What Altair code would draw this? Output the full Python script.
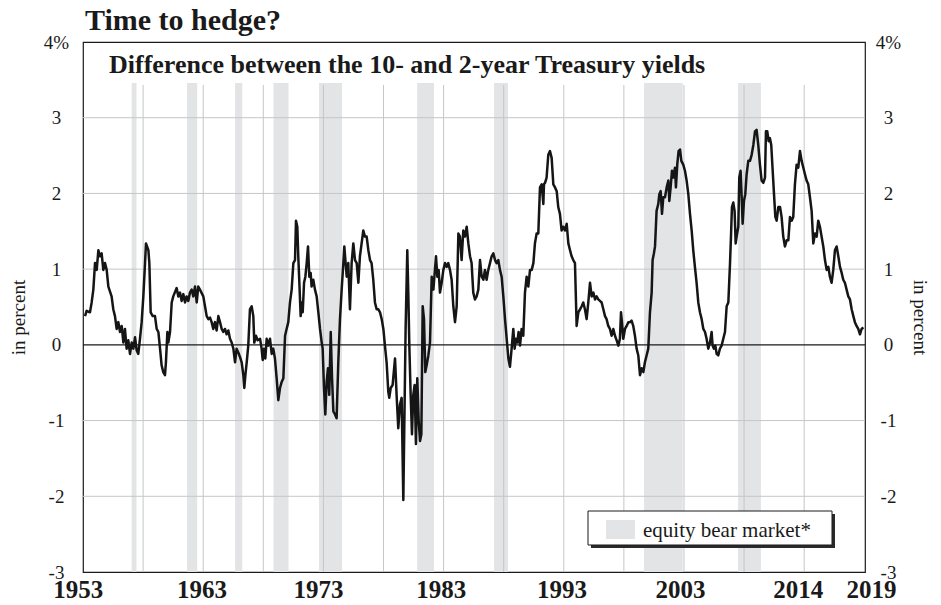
import altair as alt
import pandas as pd

# ---------------- data ----------------
years_a = [1953.17, 1953.30, 1953.58, 1953.72, 1953.86, 1954.00, 1954.14, 1954.28, 1954.41, 1954.55,
           1954.69, 1954.83, 1954.97, 1955.11, 1955.38, 1955.52, 1955.66, 1955.80, 1955.94, 1956.08,
           1956.22, 1956.36, 1956.49, 1956.63, 1956.77, 1956.91, 1957.05, 1957.19, 1957.33, 1957.46,
           1957.60, 1957.74, 1957.88, 1958.02, 1958.16, 1958.24, 1958.44, 1958.52, 1958.63, 1958.80,
           1958.99, 1959.13, 1959.27, 1959.41, 1959.54, 1959.68, 1959.82, 1959.90, 1960.02, 1960.10,
           1960.24, 1960.38, 1960.51, 1960.79, 1960.93, 1961.07, 1961.21, 1961.35, 1961.49, 1961.62,
           1961.76, 1961.90, 1962.04, 1962.18, 1962.32, 1962.46, 1962.59, 1962.73, 1963.01, 1963.15,
           1963.29, 1963.43, 1963.57, 1963.70, 1963.84, 1963.98, 1964.12, 1964.26, 1964.40, 1964.54,
           1964.67, 1964.81, 1964.95, 1965.09, 1965.23, 1965.37, 1965.51, 1965.65, 1965.78, 1965.92,
           1966.06, 1966.20, 1966.34, 1966.42, 1966.51, 1966.62, 1966.75, 1966.89, 1967.03, 1967.17,
           1967.25, 1967.39, 1967.53, 1967.73, 1967.86, 1967.95, 1968.06, 1968.17, 1968.28, 1968.42,
           1968.56, 1968.70, 1968.83, 1968.97, 1969.11, 1969.25, 1969.39, 1969.53, 1969.67, 1969.81,
           1969.94, 1970.08, 1970.22, 1970.36, 1970.50, 1970.64, 1970.72, 1970.83, 1970.91, 1971.00,
           1971.11, 1971.19, 1971.28, 1971.39, 1971.50, 1971.61, 1971.72, 1971.83, 1971.94, 1972.02,
           1972.16, 1972.30, 1972.44, 1972.58, 1972.72, 1972.86, 1972.94, 1973.05, 1973.16, 1973.27,
           1973.38, 1973.49, 1973.61, 1973.72, 1973.83, 1973.97, 1974.10, 1974.24, 1974.38, 1974.52,
           1974.66, 1974.74, 1974.85, 1974.94, 1975.07, 1975.21]
values_a = [0.38, 0.45, 0.43, 0.56, 0.73, 1.08, 0.99, 1.25, 1.17, 1.21,
            0.99, 1.08, 0.99, 0.77, 0.64, 0.47, 0.38, 0.21, 0.30, 0.17,
            0.25, 0.03, 0.21, -0.05, 0.06, -0.12, 0.03, -0.05, 0.10, -0.07,
            -0.12, 0.08, 0.30, 0.64, 1.08, 1.34, 1.25, 1.08, 0.43, 0.38,
            0.38, 0.21, 0.17, -0.05, -0.27, -0.36, -0.40, -0.23, 0.17, 0.03,
            0.17, 0.56, 0.64, 0.75, 0.64, 0.69, 0.58, 0.67, 0.56, 0.64,
            0.58, 0.69, 0.73, 0.64, 0.77, 0.56, 0.77, 0.73, 0.64, 0.51,
            0.38, 0.34, 0.36, 0.30, 0.21, 0.30, 0.19, 0.38, 0.30, 0.21,
            0.17, 0.21, 0.14, 0.19, 0.08, 0.03, -0.05, -0.23, -0.05, -0.10,
            -0.16, -0.23, -0.40, -0.57, -0.40, -0.23, -0.01, 0.47, 0.51, 0.38,
            0.03, 0.12, 0.06, 0.08, -0.05, -0.20, -0.05, -0.18, 0.08, -0.01,
            0.08, -0.12, -0.05, -0.18, -0.44, -0.73, -0.57, -0.49, -0.44, 0.12,
            0.21, 0.30, 0.56, 0.73, 1.08, 1.12, 1.64, 1.56, 1.17, 0.82,
            0.38, 0.56, 0.43, 0.82, 0.90, 1.08, 1.30, 0.90, 0.95, 0.77,
            0.86, 0.73, 0.64, 0.43, 0.21, 0.03, -0.05, -0.57, -0.92, -0.49,
            -0.31, -0.66, 0.17, -0.44, -0.88, -0.92, -0.97, -0.23, 0.34, 0.73,
            1.08, 1.30, 1.08, 0.90, 1.08, 0.47]

years_b = [1975.35, 1975.49, 1975.63, 1975.77, 1975.91, 1976.04, 1976.18, 1976.32, 1976.46, 1976.60,
           1976.74, 1976.88, 1977.01, 1977.15, 1977.29, 1977.43, 1977.57, 1977.71, 1977.85, 1977.99,
           1978.12, 1978.26, 1978.40, 1978.48, 1978.60, 1978.76, 1978.96, 1979.09, 1979.23, 1979.37,
           1979.51, 1979.65, 1979.73, 1979.84, 1979.98, 1980.07, 1980.15, 1980.26, 1980.37, 1980.48,
           1980.59, 1980.70, 1980.81, 1980.93, 1981.04, 1981.15, 1981.26, 1981.37, 1981.48, 1981.59,
           1981.73, 1981.87, 1982.01, 1982.15, 1982.28, 1982.37, 1982.48, 1982.59, 1982.70, 1982.84,
           1982.98, 1983.12, 1983.25, 1983.39, 1983.53, 1983.67, 1983.81, 1983.95, 1984.09, 1984.23,
           1984.36, 1984.50, 1984.64, 1984.78, 1984.92, 1985.06, 1985.20, 1985.33, 1985.47, 1985.61,
           1985.75, 1985.89, 1986.03, 1986.17, 1986.31, 1986.44, 1986.58, 1986.72, 1986.86, 1987.00,
           1987.14, 1987.28, 1987.41, 1987.55, 1987.69, 1987.83, 1987.97, 1988.11, 1988.25, 1988.39,
           1988.52, 1988.66, 1988.80, 1988.91, 1989.02, 1989.13, 1989.24, 1989.36, 1989.49, 1989.63,
           1989.77, 1989.91, 1990.05, 1990.19, 1990.33, 1990.47, 1990.60, 1990.74, 1990.88, 1991.02,
           1991.16, 1991.30, 1991.35, 1991.44, 1991.57, 1991.71, 1991.85, 1991.99, 1992.13, 1992.27,
           1992.41, 1992.54, 1992.68, 1992.82, 1992.96, 1993.10, 1993.24, 1993.38, 1993.52, 1993.65,
           1993.79, 1993.93, 1994.07, 1994.21, 1994.35, 1994.49, 1994.62, 1994.76, 1994.90, 1995.04,
           1995.18, 1995.32, 1995.46, 1995.60, 1995.73, 1995.87, 1996.01]
values_b = [1.08, 1.34, 1.12, 1.08, 0.82, 1.17, 1.34, 1.51, 1.43, 1.43,
            1.25, 1.12, 1.08, 0.86, 0.56, 0.47, 0.47, 0.43, 0.34, 0.21,
            -0.01, -0.23, -0.62, -0.70, -0.57, -0.53, -0.18, -0.66, -1.10, -0.79,
            -0.70, -2.05, -1.10, 0.21, 1.25, 0.64, -0.01, -0.66, -1.18, -0.66,
            -0.53, -1.31, -0.44, -1.01, -1.27, -1.18, 0.51, 0.34, -0.36, -0.27,
            -0.14, 0.03, 0.90, 0.73, 0.99, 1.17, 0.90, 0.99, 0.69, 0.82,
            0.99, 1.08, 1.03, 1.08, 0.99, 0.86, 0.51, 0.30, 0.51, 1.47,
            1.43, 1.12, 1.51, 1.43, 1.56, 1.34, 1.17, 1.08, 0.69, 0.60,
            0.64, 0.73, 1.12, 0.90, 0.86, 0.99, 0.86, 0.99, 1.08, 1.17,
            1.21, 1.12, 1.08, 1.12, 0.99, 0.90, 0.64, 0.34, 0.08, -0.18,
            -0.29, -0.05, 0.21, -0.05, 0.08, 0.03, 0.17, -0.01, 0.21, 0.12,
            0.69, 0.90, 0.77, 0.99, 0.99, 1.08, 1.34, 1.47, 1.47, 2.08,
            2.12, 1.86, 2.12, 2.14, 2.21, 2.51, 2.56, 2.47, 2.12, 2.08,
            2.03, 1.82, 1.73, 1.51, 1.56, 1.51, 1.60, 1.34, 1.25, 1.17,
            1.12, 1.08, 0.25, 0.43, 0.47, 0.51, 0.56, 0.47, 0.34, 0.56,
            0.82, 0.64, 0.69, 0.60, 0.64, 0.60, 0.58]

years_c = [1996.15, 1996.29, 1996.43, 1996.56, 1996.70, 1996.84, 1996.98, 1997.12, 1997.26, 1997.40,
           1997.54, 1997.67, 1997.76, 1997.84, 1997.95, 1998.09, 1998.23, 1998.37, 1998.51, 1998.64,
           1998.78, 1998.92, 1999.06, 1999.20, 1999.34, 1999.48, 1999.62, 1999.75, 1999.89, 2000.03,
           2000.17, 2000.31, 2000.39, 2000.50, 2000.59, 2000.72, 2000.86, 2000.95, 2001.06, 2001.17,
           2001.28, 2001.42, 2001.56, 2001.70, 2001.78, 2001.89, 2002.00, 2002.11, 2002.25, 2002.33,
           2002.44, 2002.55, 2002.67, 2002.78, 2002.94, 2003.08, 2003.22, 2003.36, 2003.50, 2003.64,
           2003.77, 2003.91, 2004.05, 2004.19, 2004.33, 2004.47, 2004.61, 2004.75, 2004.88, 2005.02,
           2005.16, 2005.30, 2005.38, 2005.49, 2005.61, 2005.72, 2005.85, 2005.99, 2006.13, 2006.27,
           2006.41, 2006.55, 2006.69, 2006.83, 2006.91, 2006.99, 2007.10, 2007.21, 2007.30, 2007.38,
           2007.52, 2007.60, 2007.71, 2007.80, 2007.88, 2007.99, 2008.10, 2008.21, 2008.35, 2008.49,
           2008.63, 2008.77, 2008.91, 2009.04, 2009.18, 2009.32, 2009.46, 2009.60, 2009.74, 2009.82,
           2009.93, 2010.04, 2010.15, 2010.26, 2010.38, 2010.49, 2010.60, 2010.71, 2010.85, 2010.99,
           2011.12, 2011.26, 2011.40, 2011.54, 2011.68, 2011.82, 2011.96, 2012.09, 2012.23, 2012.37,
           2012.51, 2012.65, 2012.79, 2012.93, 2013.07, 2013.20, 2013.34, 2013.48, 2013.62, 2013.76,
           2013.90, 2014.04, 2014.17, 2014.31, 2014.45, 2014.59, 2014.73, 2014.87, 2015.01, 2015.14,
           2015.28, 2015.42, 2015.56, 2015.70, 2015.84, 2015.98, 2016.12, 2016.25, 2016.39, 2016.53,
           2016.67, 2016.81, 2016.95, 2017.09, 2017.22, 2017.36, 2017.50, 2017.64, 2017.78, 2017.92]
values_c = [0.56, 0.47, 0.38, 0.34, 0.25, 0.21, 0.12, 0.21, 0.12, 0.06,
            -0.01, 0.08, 0.43, 0.30, 0.08, 0.21, 0.25, 0.30, 0.30, 0.32,
            0.25, 0.12, -0.05, -0.14, -0.40, -0.31, -0.36, -0.23, -0.14, -0.05,
            0.43, 0.69, 1.12, 1.21, 1.30, 1.77, 1.86, 1.99, 2.03, 1.73,
            1.95, 1.95, 2.08, 2.17, 1.90, 2.08, 2.30, 2.21, 2.34, 2.08,
            2.38, 2.56, 2.58, 2.43, 2.38, 2.30, 2.17, 1.99, 1.73, 1.51,
            1.25, 1.03, 0.82, 0.56, 0.43, 0.34, 0.21, 0.17, 0.08, -0.05,
            0.03, 0.17, -0.01, -0.05, -0.01, -0.12, -0.14, -0.05, -0.01, 0.08,
            0.17, 0.51, 0.56, 1.08, 1.43, 1.82, 1.88, 1.77, 1.34, 1.43,
            1.56, 2.21, 2.30, 1.95, 1.60, 1.90, 1.99, 2.25, 2.43, 2.43,
            2.51, 2.64, 2.82, 2.84, 2.64, 2.38, 2.17, 2.14, 2.21, 2.82,
            2.82, 2.69, 2.73, 2.64, 2.30, 1.99, 1.69, 1.64, 1.82, 1.82,
            1.69, 1.43, 1.30, 1.38, 1.38, 1.69, 1.64, 1.69, 2.12, 2.38,
            2.34, 2.56, 2.43, 2.34, 2.25, 2.17, 2.12, 1.95, 1.77, 1.34,
            1.47, 1.43, 1.64, 1.56, 1.43, 1.30, 1.12, 0.99, 1.03, 0.90,
            0.82, 0.99, 1.25, 1.30, 1.17, 1.03, 0.95, 0.86, 0.82, 0.73,
            0.64, 0.60, 0.47, 0.38, 0.30, 0.25, 0.21, 0.14, 0.21, 0.23]

bear_start = [1957.05, 1961.65, 1965.65, 1968.85, 1972.63, 1980.80, 1987.20, 1999.67, 2007.50]
bear_end = [1957.45, 1962.50, 1966.25, 1970.10, 1974.55, 1982.20, 1988.36, 2002.90, 2009.40]

grid_years = [1958, 1963, 1968, 1973, 1978, 1983, 1988, 1993, 1998, 2003, 2008, 2013]
hgrid_values = [-2, -1, 1, 2, 3]
y_ticks = [-3, -2, -1, 0, 1, 2, 3, 4]
# where the year labels sit under the plot (in years) and what they say
x_label_years = [1952.6, 1962.9, 1972.6, 1982.8, 1992.85, 2002.7, 2012.5, 2018.6]
x_label_texts = ["1953", "1963", "1973", "1983", "1993", "2003", "2014", "2019"]
x_domain = [1953, 2018.06]
y_domain = [-3, 4]

title_text = ["Time to hedge?"]
subtitle_text = ["Difference between the 10- and 2-year Treasury yields"]
legend_label = ["equity bear market*"]
axis_title = "in percent"

# ---------------- build ----------------
W, H = 782, 530
FONT = "Liberation Serif"
INK = "#1a1a1a"
BAND = "#e3e4e6"
GRID = "#c6c6c6"

df = pd.DataFrame({"year": years_a + years_b + years_c,
                   "value": values_a + values_b + values_c})
bands_df = pd.DataFrame({"start": bear_start, "end": bear_end})
xlab_df = pd.DataFrame({"year": x_label_years, "label": x_label_texts})

xscale = alt.Scale(domain=x_domain, nice=False, zero=False)
yscale = alt.Scale(domain=y_domain, nice=False, zero=False)

y_label_expr = "datum.value == 4 ? '4%' : '' + datum.value"

common_y = dict(values=y_ticks, labelExpr=y_label_expr, grid=False, domain=False,
                ticks=False, tickSize=0, labelAlign="center", labelBaseline="middle",
                labelFont=FONT, labelFontSize=19, labelColor=INK, labelOverlap=False,
                labelFlush=False, labelBound=False,
                title=axis_title, titleFont=FONT, titleFontSize=19,
                titleFontWeight="normal", titleColor=INK, titleAlign="center",
                titleBaseline="middle", titleY=275)
y_left = alt.Axis(orient="left", labelPadding=27, titleX=-65, titleAngle=270, **common_y)
y_right = alt.Axis(orient="right", labelPadding=23, titleX=54, titleAngle=90, **common_y)

bands = alt.Chart(bands_df).mark_rect(color=BAND).encode(
    x=alt.X("start:Q", scale=xscale, axis=None),
    x2="end:Q",
    y=alt.value(41),
    y2=alt.value(H),
)

vgrid = alt.Chart(pd.DataFrame({"year": grid_years})).mark_rule(
    color=GRID, strokeWidth=1).encode(
    x=alt.X("year:Q", scale=xscale, axis=None),
    y=alt.value(43),
    y2=alt.value(H),
)

hgrid = alt.Chart(pd.DataFrame({"v": hgrid_values})).mark_rule(
    color=GRID, strokeWidth=1).encode(
    y=alt.Y("v:Q", scale=yscale, axis=y_right),
)

zero = alt.Chart(pd.DataFrame({"v": [0]})).mark_rule(
    color=INK, strokeWidth=1.2).encode(
    y=alt.Y("v:Q", scale=yscale, axis=None),
)

line = alt.Chart(df).mark_line(color="#151515", strokeWidth=2.5, strokeJoin="round").encode(
    x=alt.X("year:Q", scale=xscale, axis=None),
    y=alt.Y("value:Q", scale=yscale, axis=y_left),
    order="year:Q",
)

xlabels = alt.Chart(xlab_df).mark_text(
    align="center", baseline="alphabetic", font=FONT, fontSize=25, fontWeight="bold",
    color=INK).encode(
    x=alt.X("year:Q", scale=xscale, axis=None),
    y=alt.value(H + 26),
    text="label:N",
)

legend_df = pd.DataFrame({"label": legend_label})
leg_shadow = alt.Chart(legend_df).mark_rect(color="#2a2a2a").encode(
    x=alt.value(508), x2=alt.value(752), y=alt.value(472), y2=alt.value(506))
leg_box = alt.Chart(legend_df).mark_rect(fill="white", stroke=INK, strokeWidth=1).encode(
    x=alt.value(505), x2=alt.value(749), y=alt.value(469), y2=alt.value(503))
leg_swatch = alt.Chart(legend_df).mark_rect(color=BAND).encode(
    x=alt.value(523), x2=alt.value(552), y=alt.value(478), y2=alt.value(497))
leg_text = alt.Chart(legend_df).mark_text(
    align="left", baseline="alphabetic", font=FONT, fontSize=21, color=INK).encode(
    text="label:N", x=alt.value(560), y=alt.value(495))

title = alt.Chart(pd.DataFrame({"t": title_text})).mark_text(
    align="left", baseline="alphabetic", font=FONT, fontSize=30, fontWeight="bold",
    color=INK).encode(text="t:N", x=alt.value(2), y=alt.value(-12))
subtitle = alt.Chart(pd.DataFrame({"t": subtitle_text})).mark_text(
    align="left", baseline="alphabetic", font=FONT, fontSize=26, fontWeight="bold",
    color=INK).encode(text="t:N", x=alt.value(26), y=alt.value(31))

chart = alt.layer(
    bands, vgrid, hgrid, zero, line, xlabels,
    leg_shadow, leg_box, leg_swatch, leg_text, title, subtitle,
).resolve_axis(y="independent").properties(
    width=W, height=H,
    padding={"left": 75, "top": 34, "right": 66, "bottom": 33},
    autosize=alt.AutoSizeParams(type="none"),
    background="white",
).configure_view(stroke=INK, strokeWidth=1.2)

chart.save("out.html", embed_options={"renderer": "svg", "actions": False})
